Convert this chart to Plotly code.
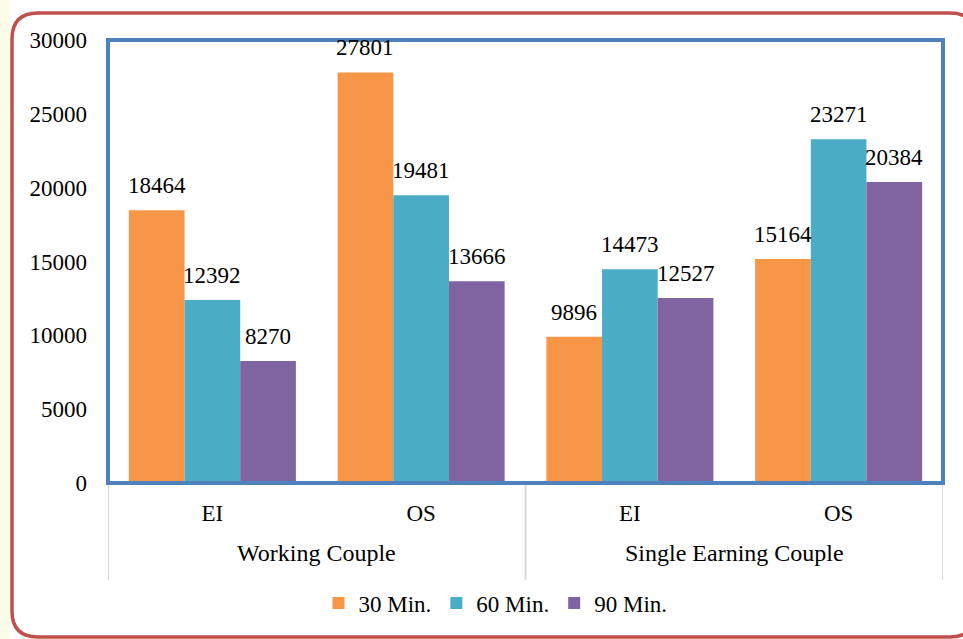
import plotly.graph_objects as go

groups = ["Working Couple", "Working Couple", "Single Earning Couple", "Single Earning Couple"]
subcats = ["EI", "OS", "EI", "OS"]
series_names = ["30 Min.", "60 Min.", "90 Min."]
v30 = [18464, 27801, 9896, 15164]
v60 = [12392, 19481, 14473, 23271]
v90 = [8270, 13666, 12527, 20384]
colors = ["#F79646", "#4BACC6", "#8064A2"]
y_ticks = [0, 5000, 10000, 15000, 20000, 25000, 30000]

W, H = 963, 639
L, R, T, B = 108, 20, 40, 156
FONT = "Liberation Serif, Times New Roman, serif"
FS = 23
BARGAP = 0.2

idx = list(range(len(subcats)))
series = [v30, v60, v90]

fig = go.Figure()
for name, vals, col in zip(series_names, series, colors):
    fig.add_trace(go.Bar(
        x=idx, y=vals, name=name,
        marker=dict(color=col, line=dict(width=0)),
        cliponaxis=False,
    ))

pw, ph = W - L - R, H - T - B
def px(x):
    return (x - L) / pw
def py(y):
    return (H - B - y) / ph

# value labels above each bar
cat_px = pw / len(subcats)
bar_px = cat_px * (1 - BARGAP) / len(series)
annotations = []
for si, vals in enumerate(series):
    for i, v in zip(idx, vals):
        annotations.append(dict(
            x=i, y=v, xref="x", yref="y", text=str(v), showarrow=False,
            xshift=(si - (len(series) - 1) / 2) * bar_px, yshift=10,
            yanchor="bottom", xanchor="center",
            font=dict(family=FONT, size=FS, color="black")))

# group labels and dividers
uniq_groups = []
for g in groups:
    if g not in uniq_groups:
        uniq_groups.append(g)
shapes = []
for g in uniq_groups:
    members = [i for i, gg in enumerate(groups) if gg == g]
    annotations.append(dict(
        x=sum(members) / len(members), y=py(553), xref="x", yref="paper",
        text=g, showarrow=False, yanchor="middle", xanchor="center",
        font=dict(family=FONT, size=24, color="black")))
bounds = [-0.5] + [i + 0.5 for i in range(len(groups) - 1) if groups[i] != groups[i + 1]] + [len(groups) - 0.5]
for bx in bounds:
    shapes.append(dict(type="line", xref="x", yref="paper", x0=bx, x1=bx, y0=0, y1=py(580),
                       line=dict(color="#D9D9D9", width=2), layer="below"))

# rounded red frame in pixel coords converted to paper (right edge lies off-canvas)
x0, x1, y0, y1, r = 12, 976, 13, 637, 26
path = (f"M {px(x0+r)},{py(y0)} L {px(x1-r)},{py(y0)} Q {px(x1)},{py(y0)} {px(x1)},{py(y0+r)} "
        f"L {px(x1)},{py(y1-r)} Q {px(x1)},{py(y1)} {px(x1-r)},{py(y1)} "
        f"L {px(x0+r)},{py(y1)} Q {px(x0)},{py(y1)} {px(x0)},{py(y1-r)} "
        f"L {px(x0)},{py(y0+r)} Q {px(x0)},{py(y0)} {px(x0+r)},{py(y0)} Z")

shapes += [
    dict(type="rect", xref="paper", yref="paper", x0=px(0), x1=px(10), y0=py(639), y1=py(0),
         fillcolor="#FBFDE8", line=dict(width=0), layer="below"),
    dict(type="path", xref="paper", yref="paper", path=path,
         line=dict(color="#C0504D", width=3.5), fillcolor="rgba(0,0,0,0)", layer="below"),
    dict(type="rect", xref="paper", yref="paper", x0=0, x1=1, y0=0, y1=1,
         line=dict(color="#4F81BD", width=4), fillcolor="rgba(0,0,0,0)", layer="above"),
]

fig.update_layout(
    width=W, height=H,
    margin=dict(l=L, r=R, t=T, b=B),
    paper_bgcolor="white", plot_bgcolor="white",
    barmode="group", bargap=BARGAP, bargroupgap=0,
    font=dict(family=FONT, size=FS, color="black"),
    showlegend=True,
    legend=dict(orientation="h", x=0.5 + 14 / W, xref="container", xanchor="center",
                y=(H - 603) / H, yref="container", yanchor="middle",
                font=dict(family=FONT, size=FS, color="black"),
                traceorder="normal"),
    shapes=shapes,
    annotations=annotations,
    xaxis=dict(tickvals=idx, ticktext=subcats, range=[-0.5, len(idx) - 0.5],
               showline=True, linecolor="#D9D9D9", linewidth=2,
               tickfont=dict(family=FONT, size=FS, color="black"),
               ticklabelstandoff=8,
               showgrid=False, zeroline=False, ticks=""),
    yaxis=dict(range=[0, 30000], tickvals=y_ticks, ticktext=[str(t) for t in y_ticks],
               showgrid=False, zeroline=False, showline=False, ticks="",
               ticklabelstandoff=20,
               tickfont=dict(family=FONT, size=FS, color="black")),
)

fig.write_html("out.html", config={"displayModeBar": False},
               post_script="document.body.style.margin='0';")
